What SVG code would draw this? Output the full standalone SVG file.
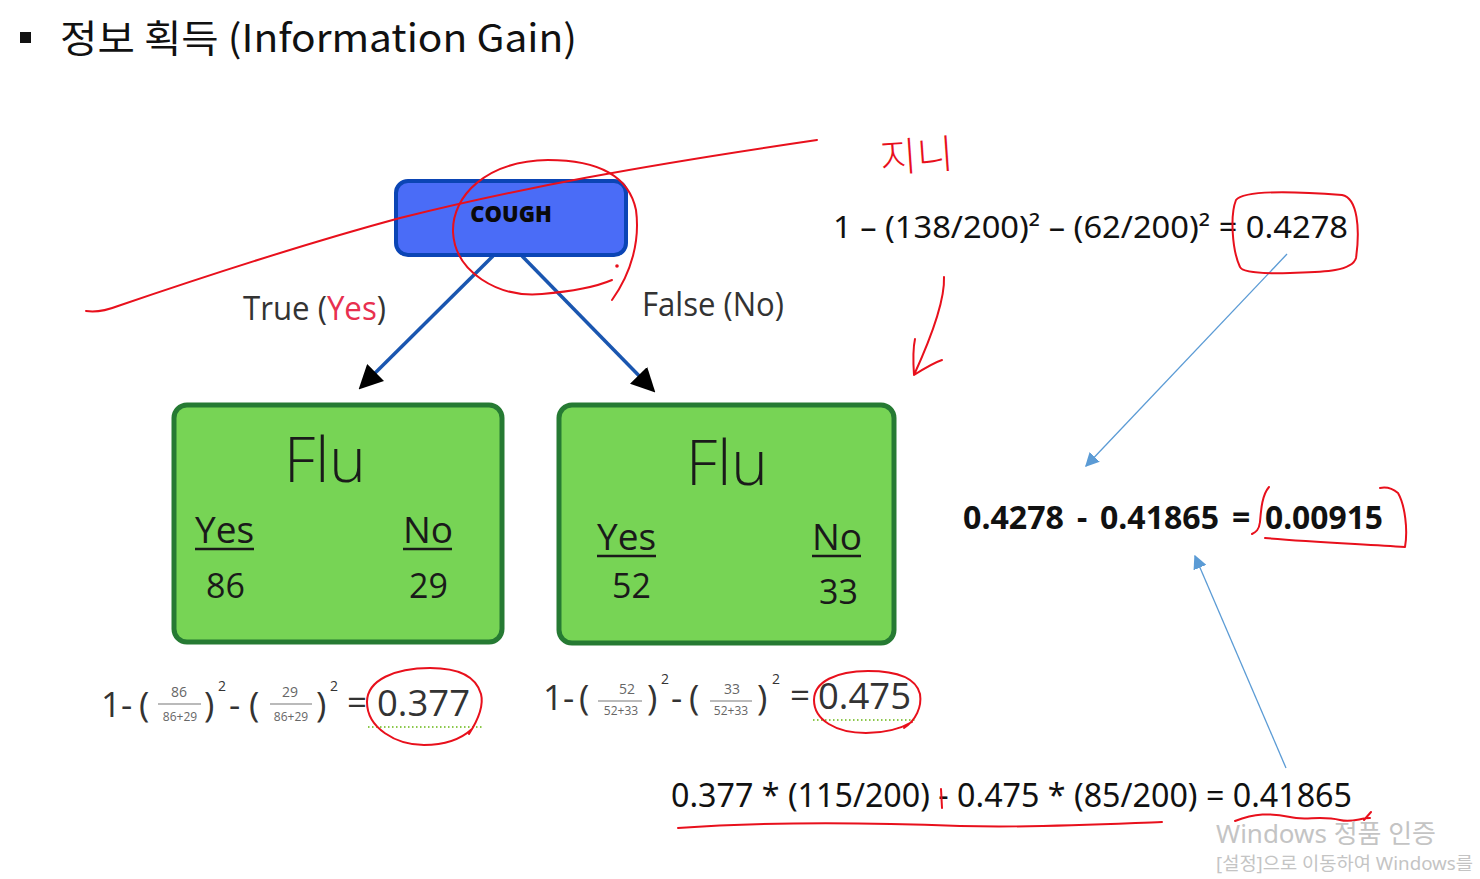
<svg xmlns="http://www.w3.org/2000/svg" width="1480" height="879" viewBox="0 0 1480 879">
<defs>
<marker id="ah" viewBox="0 0 10 10" refX="8" refY="5" markerWidth="24" markerHeight="24" markerUnits="userSpaceOnUse" orient="auto"><path d="M0,0 L10,5 L0,10 z" fill="#000"/></marker>
<marker id="bh" viewBox="0 0 10 10" refX="9" refY="5" markerWidth="14" markerHeight="14" markerUnits="userSpaceOnUse" orient="auto"><path d="M0,0 L10,5 L0,10 z" fill="#5b9bd5"/></marker>
</defs>
<style>
.t{font-family:"Open Sans","Noto Sans",sans-serif;fill:#1a1a1a}
.f{font-family:"Noto Sans","Open Sans","Noto Sans CJK KR",sans-serif;fill:#111}
.b{font-family:"Noto Sans","Open Sans",sans-serif;fill:#111;font-weight:bold;font-size:32px}
.g{font-family:"Open Sans","Noto Sans",sans-serif;fill:#333}
.fr{font-family:"Open Sans","Noto Sans",sans-serif;fill:#666;text-anchor:middle}
.box{fill:#77d455;stroke:#267a33;stroke-width:5}
.ul{stroke:#1a1a1a;stroke-width:2.5}
.fl{stroke:#777;stroke-width:1.2}
.red{fill:none;stroke:#e8101c;stroke-width:2;stroke-linecap:round;stroke-linejoin:round}
.dot{fill:none;stroke:#8cc84b;stroke-width:2;stroke-dasharray:1.5 2.5}
.blue{fill:none;stroke:#5b9bd5;stroke-width:1.3}
.edge{fill:none;stroke:#1a56b0;stroke-width:3.5}
.wm{font-family:"Noto Sans","Noto Sans CJK KR",sans-serif;fill:#c4c4c4}
</style>
<rect width="1480" height="879" fill="#fff"/>

<g id="title">
<rect x="20" y="32" width="11" height="11" fill="#111"/>
<text x="60" y="52" font-family="'Noto Sans CJK KR','Noto Sans',sans-serif" font-size="38" fill="#111" textLength="517" lengthAdjust="spacingAndGlyphs">정보 획득 (Information Gain)</text>
</g>

<g id="connectors">
<line class="edge" x1="493" y1="256" x2="362" y2="386" marker-end="url(#ah)"/>
<line class="edge" x1="522" y1="256" x2="652" y2="389" marker-end="url(#ah)"/>
<text class="g" x="243" y="320" font-size="32" textLength="143" lengthAdjust="spacingAndGlyphs">True (<tspan fill="#e8304f">Yes</tspan>)</text>
<text class="g" x="642" y="316" font-size="32" textLength="142" lengthAdjust="spacingAndGlyphs">False (No)</text>
</g>

<g id="node-cough">
<rect x="396" y="181" width="230" height="74" rx="12" fill="#4a6cf7" stroke="#0b45b5" stroke-width="4"/>
<text x="511" y="222" font-family="'Open Sans','DejaVu Sans',sans-serif" font-weight="800" font-size="22" fill="#0a0a0a" text-anchor="middle">COUGH</text>
</g>

<g id="node-flu-yes">
<rect class="box" x="174" y="405" width="328" height="237" rx="13"/>
<text class="t" x="325" y="482" font-size="62" font-weight="300" text-anchor="middle">Flu</text>
<text class="t" x="195" y="543" font-size="37">Yes</text>
<line class="ul" x1="195" y1="549" x2="254" y2="549"/>
<text class="t" x="403" y="543" font-size="37">No</text>
<line class="ul" x1="403" y1="549" x2="452" y2="549"/>
<text class="t" x="206" y="598" font-size="34">86</text>
<text class="t" x="409" y="598" font-size="34">29</text>
</g>

<g id="node-flu-no">
<rect class="box" x="559" y="405" width="335" height="238" rx="13"/>
<text class="t" x="727" y="485" font-size="62" font-weight="300" text-anchor="middle">Flu</text>
<text class="t" x="597" y="550" font-size="37">Yes</text>
<line class="ul" x1="597" y1="556" x2="656" y2="556"/>
<text class="t" x="812" y="550" font-size="37">No</text>
<line class="ul" x1="812" y1="556" x2="861" y2="556"/>
<text class="t" x="612" y="598" font-size="34">52</text>
<text class="t" x="819" y="604" font-size="34">33</text>
</g>

<g id="gini-left">
<text class="g" x="101" y="717" font-size="35">1-</text>
<text class="g" x="139" y="717" font-size="35">(</text>
<text class="fr" x="179" y="697" font-size="14">86</text>
<line class="fl" x1="158" y1="704" x2="201" y2="704"/>
<text class="fr" x="180" y="721" font-size="12">86+29</text>
<text class="g" x="204" y="717" font-size="35">)</text>
<text class="g" x="218" y="691" font-size="14">2</text>
<text class="g" x="229" y="717" font-size="35">-</text>
<text class="g" x="249" y="717" font-size="35">(</text>
<text class="fr" x="290" y="697" font-size="14">29</text>
<line class="fl" x1="270" y1="704" x2="312" y2="704"/>
<text class="fr" x="291" y="721" font-size="12">86+29</text>
<text class="g" x="316" y="717" font-size="35">)</text>
<text class="g" x="330" y="691" font-size="14">2</text>
<text class="g" x="347" y="715" font-size="35">=</text>
<text class="g" x="377" y="716" font-size="36" textLength="93" lengthAdjust="spacingAndGlyphs">0.377</text>
<line class="dot" x1="368" y1="727" x2="484" y2="727"/>
</g>

<g id="gini-right">
<text class="g" x="543" y="710" font-size="35">1-</text>
<text class="g" x="579" y="710" font-size="35">(</text>
<text class="fr" x="627" y="694" font-size="14">52</text>
<line class="fl" x1="598" y1="701" x2="642" y2="701"/>
<text class="fr" x="621" y="715" font-size="12">52+33</text>
<text class="g" x="647" y="710" font-size="35">)</text>
<text class="g" x="661" y="684" font-size="14">2</text>
<text class="g" x="671" y="710" font-size="35">-</text>
<text class="g" x="689" y="710" font-size="35">(</text>
<text class="fr" x="732" y="694" font-size="14">33</text>
<line class="fl" x1="710" y1="701" x2="752" y2="701"/>
<text class="fr" x="731" y="715" font-size="12">52+33</text>
<text class="g" x="757" y="710" font-size="35">)</text>
<text class="g" x="772" y="684" font-size="14">2</text>
<text class="g" x="790" y="708" font-size="35">=</text>
<text class="g" x="818" y="709" font-size="36" textLength="93" lengthAdjust="spacingAndGlyphs">0.475</text>
<line class="dot" x1="813" y1="720" x2="917" y2="720"/>
</g>

<g id="formulas">
<text class="f" x="833" y="238" font-size="30" textLength="515" lengthAdjust="spacingAndGlyphs">1 – (138/200)² – (62/200)² = 0.4278</text>
<text class="b" x="963" y="529" textLength="101" lengthAdjust="spacingAndGlyphs">0.4278</text>
<text class="b" x="1077" y="529">-</text>
<text class="b" x="1100" y="529" textLength="119" lengthAdjust="spacingAndGlyphs">0.41865</text>
<text class="b" x="1232" y="529">=</text>
<text class="b" x="1265" y="529" textLength="118" lengthAdjust="spacingAndGlyphs">0.00915</text>
<text class="f" x="671" y="807" font-size="33" textLength="681" lengthAdjust="spacingAndGlyphs">0.377 * (115/200) - 0.475 * (85/200) = 0.41865</text>
<line class="blue" x1="1287" y1="254" x2="1086" y2="466" marker-end="url(#bh)"/>
<line class="blue" x1="1286" y1="768" x2="1195" y2="556" marker-end="url(#bh)"/>
</g>

<g id="annotations">
<text x="880" y="170" font-family="'Noto Sans CJK KR',sans-serif" font-weight="300" font-size="40" fill="#e8101c" transform="rotate(-4 920 158)">지니</text>
<path class="red" d="M86,311 Q100,313 118,306 C200,278 300,245 400,218 C520,188 640,166 817,140"/>
<path class="red" d="M612,300 C632,272 640,240 636,210 C628,172 592,160 548,160 C486,161 452,196 453,232 C455,272 498,298 542,294 C578,291 598,286 612,280"/>
<circle cx="617" cy="266" r="1.8" fill="#e8101c"/>
<path class="red" d="M944,277 C945,300 930,340 914,375 M914,375 C913,360 913,348 915,339 M914,375 C925,368 933,363 942,360"/>
<path class="red" d="M1240,267 C1232,250 1230,215 1236,200 C1244,190 1290,191 1342,195 C1358,198 1360,230 1356,258 C1352,272 1320,272 1290,273 C1262,274 1242,272 1240,267 Z"/>
<path class="red" d="M1269,487 C1262,495 1261,510 1260,522 C1259,530 1256,532 1252,534 M1265,538 C1310,542 1360,544 1405,547 C1408,530 1405,505 1398,493 C1392,488 1385,487 1380,488"/>
<path class="red" d="M469,734 C478,720 484,706 481,694 C476,676 458,668 430,668 C395,668 367,680 367,702 C367,728 396,745 424,745 C445,745 460,740 472,729"/>
<path class="red" d="M904,728 C916,720 922,707 920,694 C916,678 898,671 868,671 C836,671 814,682 814,700 C814,720 836,733 866,733 C884,733 900,729 912,722"/>
<line class="red" x1="941" y1="789" x2="942" y2="808"/>
<path class="red" d="M678,828 C760,822 860,822 960,826 C1040,828 1110,824 1162,822"/>
<path class="red" d="M1235,821 C1255,813 1270,813 1290,817 C1305,821 1320,815 1340,820 C1352,823 1360,818 1370,818 M1364,820 L1371,812"/>
</g>

<g id="watermark">
<text class="wm" x="1216" y="843" font-size="26" textLength="220" lengthAdjust="spacingAndGlyphs">Windows 정품 인증</text>
<text class="wm" x="1216" y="870" font-size="18" textLength="257" lengthAdjust="spacingAndGlyphs">[설정]으로 이동하여 Windows를</text>
</g>
</svg>
